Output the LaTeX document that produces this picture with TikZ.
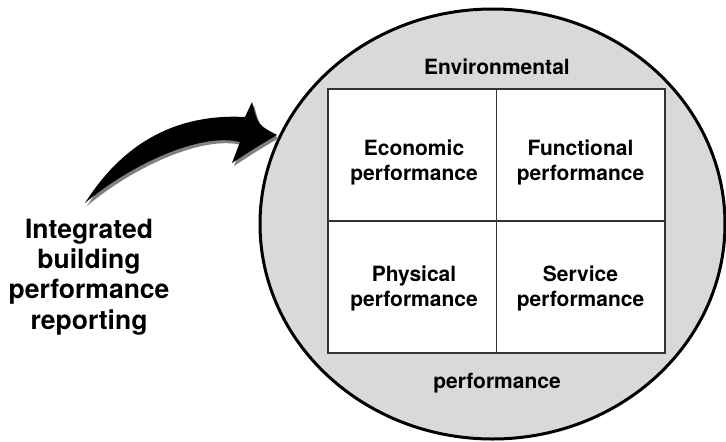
\documentclass[tikz,border=0pt]{standalone}
\usepackage{fontspec}
\setmainfont{TeX Gyre Heros}
\usepackage{tikz}
\usetikzlibrary{shapes.geometric}

\begin{document}
\begin{tikzpicture}
[x=1pt, y=-1pt,
ring/.style ={ellipse, draw=black, line width=3pt, fill=gray!30, minimum width=465pt, minimum height=430pt},
quad/.style ={rectangle, draw=black!80, line width=1.5pt, fill=white, minimum width=168.5pt, minimum height=132pt},
perf/.style ={align=center, font=\fontsize{21}{25}\selectfont\bfseries},
report/.style ={align=center, font=\fontsize{26.5}{30.3}\selectfont\bfseries},
shade/.style ={fill=black!50}]
\useasboundingbox (0, 0) rectangle (726, 442);
\draw (492.5, 224) node[ring] (env) {};
\draw (412.25, 155) node[quad] (q1) {};
\draw (580.75, 155) node[quad] (q2) {};
\draw (412.25, 287) node[quad] (q3) {};
\draw (580.75, 287) node[quad] (q4) {};
\draw (497, 67) node[perf] (envtop) {Environmental};
\draw (497, 383) node[perf] (envbot) {performance};
\draw (414, 162) node[perf] (econ) {Economic\\performance};
\draw (580.5, 162) node[perf] (func) {Functional\\performance};
\draw (414, 288) node[perf] (phys) {Physical\\performance};
\draw (580.5, 288) node[perf] (serv) {Service\\performance};
\draw (89, 277) node[report] (ibpr) {Integrated\\building\\performance\\reporting};
% curved block arrow, shadow first
\fill[shade, shift={(2, 3)}] (85, 203) .. controls (105, 172) and (150, 112) .. (245, 117)
  -- (252, 102) .. controls (258, 125) .. (277, 135)
  .. controls (255, 148) .. (232, 163) -- (240, 142)
  .. controls (200, 132) and (130, 165) .. (85, 203) -- cycle;
\fill[black] (85, 203) .. controls (105, 172) and (150, 112) .. (245, 117)
  -- (252, 102) .. controls (258, 125) .. (277, 135)
  .. controls (255, 148) .. (232, 163) -- (240, 142)
  .. controls (200, 132) and (130, 165) .. (85, 203) -- cycle;
\end{tikzpicture}
\end{document}
